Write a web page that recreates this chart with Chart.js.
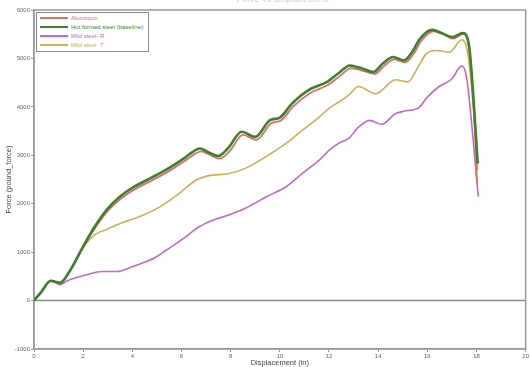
<!DOCTYPE html>
<html lang="en">
<head>
<meta charset="UTF-8">
<title>Force vs Displacement</title>
<script src="https://cdn.jsdelivr.net/npm/chart.js"></script>
<style>
  body { margin: 0; background: #fff; font-family: "Liberation Sans", Arial, sans-serif; }
  #wrap { position: relative; width: 530px; height: 367px; overflow: hidden; }
  #title { position: absolute; top: -6px; left: 225px; width: 115px; text-align: center;
           font-size: 9px; color: #ccc; white-space: nowrap; }
  #legend { position: absolute; left: 36px; top: 12px; width: 111px; height: 38px;
            border: 1px solid #888; background: #fff; font-size: 6px; }
  .row { position: absolute; left: 3px; height: 8px; line-height: 8px; white-space: nowrap; }
  .row i { display: inline-block; width: 28px; height: 2px; vertical-align: middle; margin-right: 3px; }
</style>
</head>
<body>
<div id="wrap">
  <canvas id="c" width="530" height="367"></canvas>
  <div id="title">Force vs Displacement</div>
  <div id="legend"></div>
</div>
<script>
// 数据
const labels = ['Aluminum', 'Hot formed steel (baseline)', 'Mild steel- R', 'Mild steel- T'];
const colors = ['#d9706a', '#3f7f2e', '#c466cc', '#cfae55'];

const aluX = [0, 0.3, 0.68, 1.05, 1.5, 2.0, 2.5, 3.0, 3.5, 4.0, 4.6, 5.2, 5.7, 6.1, 6.4, 6.8, 7.15, 7.55, 7.95, 8.5, 9.05, 9.65, 10.05, 10.55, 11.25, 11.95, 12.45, 12.9, 13.35, 13.85, 14.25, 14.65, 15.1, 15.45, 15.75, 16.25, 16.65, 17.05, 17.45, 17.7, 17.9, 18.02];
const aluY = [0, 180, 400, 360, 640, 1100, 1510, 1850, 2090, 2270, 2430, 2590, 2740, 2870, 2980, 3080, 3010, 2930, 3080, 3420, 3320, 3660, 3720, 4010, 4290, 4450, 4640, 4800, 4750, 4680, 4850, 4980, 4920, 5100, 5360, 5560, 5500, 5410, 5500, 5200, 3900, 2430];

const hotX = [0, 0.3, 0.68, 1.05, 1.5, 2.0, 2.5, 3.0, 3.5, 4.0, 4.6, 5.2, 5.7, 6.1, 6.4, 6.75, 7.1, 7.5, 7.9, 8.45, 9.0, 9.6, 10.0, 10.5, 11.2, 11.9, 12.4, 12.85, 13.3, 13.8, 14.2, 14.6, 15.05, 15.4, 15.7, 16.2, 16.6, 17.0, 17.45, 17.7, 17.9, 18.05];
const hotY = [0, 180, 410, 365, 650, 1120, 1550, 1900, 2150, 2330, 2490, 2650, 2800, 2935, 3050, 3140, 3060, 2985, 3150, 3485, 3380, 3725, 3780, 4070, 4355, 4510, 4700, 4855, 4800, 4720, 4900, 5030, 4960, 5150, 5405, 5590, 5520, 5440, 5525, 5250, 4000, 2830];

const mildRX = [0, 0.3, 0.68, 1.05, 1.4, 2.15, 2.75, 3.35, 4.1, 4.6, 5.0, 5.4, 5.7, 6.1, 6.7, 7.3, 7.95, 8.6, 9.45, 10.25, 10.9, 11.6, 12.0, 12.4, 12.8, 13.2, 13.65, 14.15, 14.7, 15.1, 15.65, 16.0, 16.45, 17.0, 17.4, 17.6, 17.85, 18.07];
const mildRY = [0, 180, 410, 330, 420, 535, 600, 600, 720, 810, 910, 1050, 1150, 1290, 1520, 1665, 1770, 1905, 2145, 2350, 2620, 2900, 3100, 3250, 3350, 3580, 3720, 3640, 3860, 3915, 3985, 4200, 4410, 4580, 4850, 4600, 3400, 2150];

const mildTX = [0, 0.3, 0.68, 1.05, 1.5, 2.0, 2.5, 3.0, 3.5, 4.3, 5.1, 5.9, 6.6, 7.1, 7.9, 8.6, 9.4, 10.25, 10.9, 11.6, 12.0, 12.4, 12.8, 13.2, 13.9, 14.7, 15.2, 15.6, 15.95, 16.35, 16.9, 17.4, 17.65, 17.85, 18.05];
const mildTY = [0, 180, 410, 365, 640, 1100, 1370, 1480, 1590, 1735, 1930, 2210, 2490, 2580, 2620, 2730, 2960, 3245, 3510, 3790, 3970, 4100, 4240, 4420, 4270, 4560, 4515, 4800, 5095, 5165, 5130, 5385, 5100, 4100, 2700];

const xTicks = [0, 2, 4, 6, 8, 10, 12, 14, 16, 18, 20];
const yTicks = [-1000, 0, 1000, 2000, 3000, 4000, 5000, 6000];

function pts(xs, ys) {
  return xs.map((x, i) => ({ x: x, y: ys[i] }));
}

const series = [pts(aluX, aluY), pts(hotX, hotY), pts(mildRX, mildRY), pts(mildTX, mildTY)];
const widths = [1.8, 2.6, 1.6, 1.6];
// 绘制顺序: 铝在下, 基准钢在上
const order = [1, 0, 2, 3];

// 图例
const legend = document.getElementById('legend');
labels.forEach((name, i) => {
  const row = document.createElement('div');
  row.className = 'row';
  row.style.top = (1 + i * 9) + 'px';
  row.style.color = colors[i];
  row.innerHTML = '<i style="background:' + colors[i] + '"></i>' + name;
  legend.appendChild(row);
});

// 边框和零线
const framePlugin = {
  id: 'frame',
  beforeDatasetsDraw(chart) {
    const { ctx, chartArea: a, scales } = chart;
    const y0 = scales.y.getPixelForValue(0);
    ctx.save();
    ctx.strokeStyle = '#8a8a8a';
    ctx.lineWidth = 1.5;
    ctx.beginPath();
    ctx.moveTo(a.left, y0);
    ctx.lineTo(a.right, y0);
    ctx.stroke();
    ctx.strokeStyle = '#9a9a9a';
    ctx.lineWidth = 1.5;
    ctx.strokeRect(a.left, a.top, a.right - a.left, a.bottom - a.top);
    ctx.restore();
  }
};

const tickFont = { size: 6, family: '"Liberation Sans", Arial, sans-serif' };

new Chart(document.getElementById('c'), {
  type: 'line',
  data: {
    datasets: series.map((d, i) => ({
      label: labels[i],
      data: d,
      borderColor: colors[i],
      borderWidth: widths[i],
      pointRadius: 0,
      fill: false,
      tension: 0.4,
      cubicInterpolationMode: 'monotone',
      order: order[i]
    }))
  },
  options: {
    responsive: false,
    animation: false,
    layout: { padding: { top: 10, right: 3, left: 4, bottom: 0 } },
    plugins: { legend: { display: false }, tooltip: { enabled: false } },
    scales: {
      x: {
        type: 'linear',
        min: 0,
        max: 20,
        afterBuildTicks: s => { s.ticks = xTicks.map(v => ({ value: v })); },
        afterFit: s => { s.height = 18; },
        grid: { drawOnChartArea: false, tickLength: 3, color: '#999' },
        border: { display: true, color: '#999', width: 1.5 },
        ticks: { font: tickFont, color: '#666', padding: 1, maxRotation: 0, callback: v => String(v) },
        title: { display: true, text: 'Displacement (in)', font: { size: 7.5, family: tickFont.family }, color: '#444', padding: 0 }
      },
      y: {
        min: -1000,
        max: 6000,
        afterBuildTicks: s => { s.ticks = yTicks.map(v => ({ value: v })); },
        afterFit: s => { s.width = 30; },
        grid: { drawOnChartArea: false, tickLength: 3, color: '#999' },
        border: { display: true, color: '#999', width: 1.5 },
        ticks: { font: tickFont, color: '#666', padding: 1, callback: v => String(v) },
        title: { display: true, text: 'Force (pound_force)', font: { size: 7.5, family: tickFont.family }, color: '#444', padding: 0 }
      }
    }
  },
  plugins: [framePlugin]
});
</script>
</body>
</html>
